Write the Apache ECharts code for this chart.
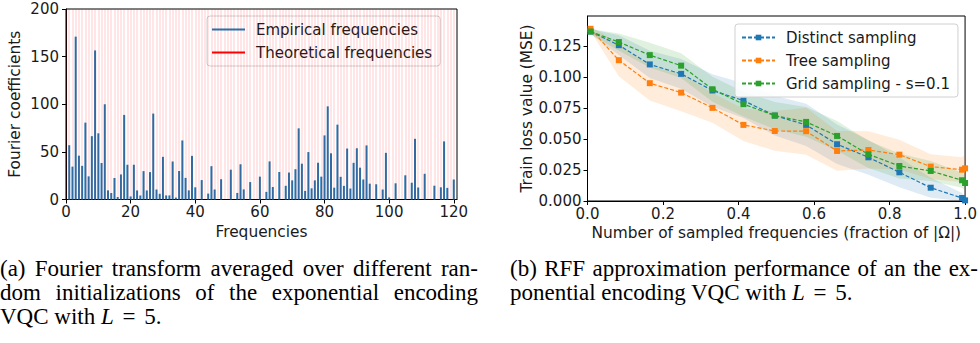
<!DOCTYPE html>
<html><head><meta charset="utf-8">
<script src="https://cdn.jsdelivr.net/npm/echarts@6/dist/echarts.min.js"></script>
<style>
html,body{margin:0;padding:0;background:#fff;}
#chart{position:absolute;left:0;top:0;width:980px;height:343px;}
.cap{position:absolute;font-family:'Liberation Serif','Times New Roman',serif;font-size:23px;line-height:24px;color:#000;}
.cap div{white-space:nowrap;}
.cap .j{text-align:justify;text-align-last:justify;white-space:normal;}
.eq{margin:0 3px;}
</style></head>
<body>
<div id="chart"></div>
<div class="cap" style="left:0;top:257px;width:478px;">
  <div class="j">(a) Fourier transform averaged over different ran-</div>
  <div class="j">dom initializations of the exponential encoding</div>
  <div>VQC with <i>L</i> <span class="eq">=</span> 5.</div>
</div>
<div class="cap" style="left:510px;top:257px;width:468px;">
  <div class="j">(b) RFF approximation performance of an the ex-</div>
  <div>ponential encoding VQC with <i>L</i> <span class="eq">=</span> 5.</div>
</div>
<script>
// ---------- Left chart data ----------
const frequencies = [0,1,2,3,4,5,6,7,8,9,10,11,12,13,14,15,16,17,18,19,20,21,22,23,24,25,26,27,28,29,30,31,32,33,34,35,36,37,38,39,40,41,42,43,44,45,46,47,48,49,50,51,52,53,54,55,56,57,58,59,60,61,62,63,64,65,66,67,68,69,70,71,72,73,74,75,76,77,78,79,80,81,82,83,84,85,86,87,88,89,90,91,92,93,94,95,96,97,98,99,100,101,102,103,104,105,106,107,108,109,110,111,112,113,114,115,116,117,118,119,120];
const empiricalCoefficients = [0,57,34.5,171,46,35.3,80.7,24.3,66.5,156.5,69.5,38.3,100,9.6,6.8,22.6,2.6,26.3,88.8,36.5,3.2,36.5,9.5,4.2,29.8,9.5,28.8,90.2,10.5,6,44.8,4.3,4.3,39.9,2,29.9,62,22.7,9.6,45.8,12.8,0,20.4,0,6.2,35,10.5,0,21.3,0,0,31.3,0,6.9,37,10.6,0,18.3,0,0,24,0,8,40,13.1,0,28.9,0,14.4,28.3,20.1,31.8,74.7,37.6,9,49.8,11.7,20.1,38.6,24,67.3,97.8,48.5,12.4,78.6,23.8,14.3,53.5,11.5,38.5,53.8,33.4,21,56.8,16.6,0,16,0,10.5,49,2.2,0,17,0,0,25.4,0,17.6,63.7,12.6,0,27,0,0,14.5,0,12.8,61,12.2,0,21];
const theoreticalFrequencies = frequencies;
const leftXTicks = [0,20,40,60,80,100,120];

// ---------- Right chart data ----------
const sampledFraction = [0.008,0.083,0.165,0.248,0.331,0.413,0.496,0.579,0.661,0.744,0.826,0.909,0.992,1.0];
const distinctMean = [0.1365,0.1255,0.110,0.1024,0.089,0.0809,0.0688,0.0613,0.0457,0.0352,0.0231,0.0107,0.0024,0.0005];
const distinctStd  = [0.002,0.008,0.011,0.012,0.013,0.014,0.016,0.017,0.016,0.014,0.012,0.008,0.004,0.003];
const treeMean = [0.1387,0.1134,0.0949,0.0873,0.075,0.0613,0.0564,0.0562,0.0403,0.0411,0.0373,0.0277,0.0252,0.0263];
const treeStd  = [0.002,0.013,0.014,0.015,0.012,0.013,0.016,0.019,0.016,0.015,0.012,0.010,0.010,0.011];
const gridMean = [0.1365,0.128,0.1175,0.109,0.090,0.078,0.0688,0.0637,0.0524,0.0376,0.0282,0.0242,0.0167,0.0145];
const gridStd  = [0.002,0.007,0.010,0.010,0.010,0.010,0.011,0.012,0.012,0.011,0.010,0.008,0.006,0.006];
const rightYTicks = [0,0.025,0.05,0.075,0.1,0.125];

const FONT = 'DejaVu Sans';
const TXT = '#1a1a1a';
const C_BLUE = '#1f77b4', C_ORANGE = '#ff7f0e', C_GREEN = '#2ca02c';

function band(xs, mean, std, color) {
  const data = xs.map((x, i) => [x, Math.max(0, mean[i] - std[i]), mean[i] + std[i]]);
  return {
    type: 'custom', xAxisIndex: 1, yAxisIndex: 1, silent: true, z: 1,
    data: data,
    renderItem: function (params, api) {
      if (params.dataIndex !== 0) return null;
      const up = data.map(d => api.coord([d[0], d[2]]));
      const lo = data.map(d => api.coord([d[0], d[1]])).reverse();
      const cs = params.coordSys;
      return {
        type: 'group',
        clipPath: { type: 'rect', shape: { x: cs.x, y: cs.y, width: cs.width, height: cs.height } },
        children: [{ type: 'polygon', shape: { points: up.concat(lo) }, style: { fill: color, stroke: null } }]
      };
    }
  };
}
function lineSeries(name, xs, vals, color) {
  return {
    name: name, type: 'line', xAxisIndex: 1, yAxisIndex: 1, z: 3,
    data: xs.map((x, i) => [x, vals[i]]),
    symbol: 'rect', symbolSize: 6,
    lineStyle: { color: color, width: 1.2, type: [4, 2] },
    itemStyle: { color: color }
  };
}

const axisCommon = {
  axisLine: { show: true, onZero: false, lineStyle: { color: '#000', width: 1 } },
  axisTick: { show: true, length: 4, lineStyle: { color: '#000' } },
  splitLine: { show: false },
  axisLabel: { color: TXT, fontFamily: FONT, fontSize: 15 },
  nameTextStyle: { color: TXT, fontFamily: FONT, fontSize: 15.4 }
};
function ax(extra) { return echarts.util.merge(echarts.util.clone(axisCommon), extra, true); }

const chart = echarts.init(document.getElementById('chart'), null, { renderer: 'svg', width: 980, height: 343 });
chart.setOption({
  animation: false,
  grid: [
    { left: 66, top: 9, width: 391, height: 190.5, show: true, borderColor: '#000', borderWidth: 1, containLabel: false },
    { left: 587.5, top: 16, width: 378.5, height: 185, show: true, borderColor: '#000', borderWidth: 1, containLabel: false }
  ],
  xAxis: [
    ax({ type: 'value', gridIndex: 0, min: 0, max: 121,
      axisTick: { customValues: leftXTicks },
      axisLabel: { customValues: leftXTicks, margin: 5 },
      name: 'Frequencies', nameLocation: 'middle', nameGap: 24 }),
    ax({ type: 'value', gridIndex: 1, min: 0, max: 1, interval: 0.2,
      axisLabel: { margin: 5, formatter: v => v.toFixed(1) },
      name: 'Number of sampled frequencies (fraction of |Ω|)', nameLocation: 'middle', nameGap: 23 })
  ],
  yAxis: [
    ax({ type: 'value', gridIndex: 0, min: 0, max: 200, interval: 50,
      axisLabel: { margin: 7 },
      name: 'Fourier coefficients', nameLocation: 'middle', nameGap: 44 }),
    ax({ type: 'value', gridIndex: 1, min: 0, max: 0.149,
      axisTick: { customValues: rightYTicks },
      axisLabel: { customValues: rightYTicks, margin: 6, formatter: v => v.toFixed(3) },
      name: 'Train loss value (MSE)', nameLocation: 'middle', nameGap: 43 })
  ],
  legend: [
    { orient: 'vertical', left: 207, top: 16, padding: [6, 8, 6, 5], itemGap: 8,
      itemWidth: 33, itemHeight: 2,
      backgroundColor: 'rgba(255,255,255,0.85)', borderColor: '#d0d0d0', borderWidth: 1, borderRadius: 3,
      textStyle: { color: TXT, fontFamily: FONT, fontSize: 15, lineHeight: 15, padding: [0, 0, 0, 6] },
      data: [{ name: 'Empirical frequencies', icon: 'rect' }, { name: 'Theoretical frequencies', icon: 'rect' }] },
    { orient: 'vertical', left: 735, top: 24, padding: [6, 8, 6, 6], itemGap: 8,
      itemWidth: 33, itemHeight: 7,
      backgroundColor: 'rgba(255,255,255,0.85)', borderColor: '#d0d0d0', borderWidth: 1, borderRadius: 3,
      textStyle: { color: TXT, fontFamily: FONT, fontSize: 15, lineHeight: 15, padding: [0, 0, 0, 6] },
      data: ['Distinct sampling', 'Tree sampling', 'Grid sampling - s=0.1'] }
  ],
  series: [
    { name: 'Theoretical frequencies', type: 'line', xAxisIndex: 0, yAxisIndex: 0, data: [], z: 1,
      itemStyle: { color: '#ff0000' }, lineStyle: { color: '#ff0000', width: 2 },
      markLine: { silent: true, symbol: ['none', 'none'], label: { show: false },
        lineStyle: { color: 'rgba(255,0,0,0.13)', width: 1.6, type: 'solid' },
        emphasis: { disabled: true },
        data: theoreticalFrequencies.map(f => ({ xAxis: f })) } },
    { name: 'Empirical frequencies', type: 'bar', xAxisIndex: 0, yAxisIndex: 0, z: 2,
      barWidth: 2, itemStyle: { color: C_BLUE },
      data: frequencies.map((f, i) => [f, empiricalCoefficients[i]]) },
    band(sampledFraction, distinctMean, distinctStd, 'rgba(31,119,180,0.15)'),
    band(sampledFraction, treeMean, treeStd, 'rgba(255,127,14,0.15)'),
    band(sampledFraction, gridMean, gridStd, 'rgba(44,160,44,0.15)'),
    lineSeries('Distinct sampling', sampledFraction, distinctMean, C_BLUE),
    lineSeries('Tree sampling', sampledFraction, treeMean, C_ORANGE),
    lineSeries('Grid sampling - s=0.1', sampledFraction, gridMean, C_GREEN)
  ]
});
</script>
</body></html>
